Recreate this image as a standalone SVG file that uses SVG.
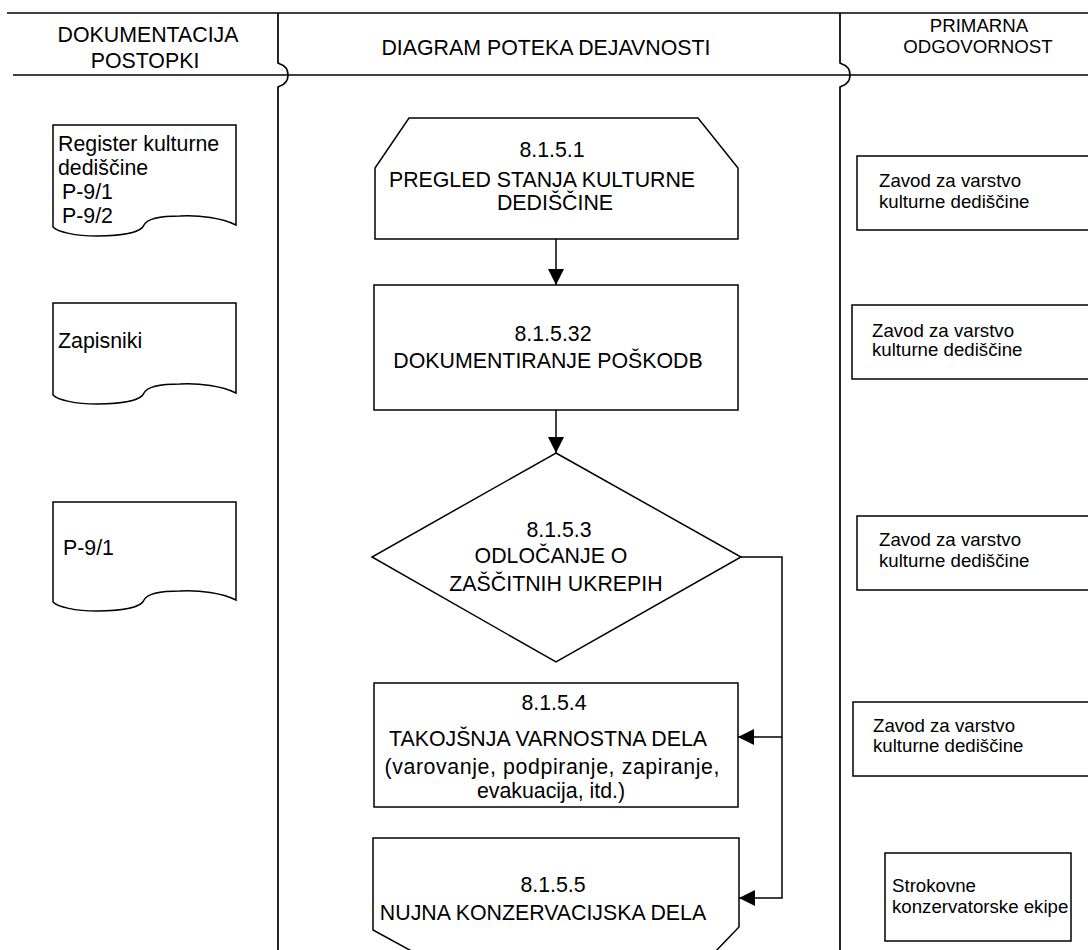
<svg xmlns="http://www.w3.org/2000/svg" width="1088" height="950" viewBox="0 0 1088 950">
<style>
.ln{stroke:#000;stroke-width:1.7;fill:none}
.sh{stroke:#000;stroke-width:1.5;fill:#fff}
.cn{stroke:#000;stroke-width:1.5;fill:none}
text{font-family:"Liberation Sans",Arial,sans-serif;font-size:21.33px;fill:#000}
.c{text-anchor:middle}
.s{font-size:18.67px}
</style>
<defs>
<marker id="arr" markerUnits="userSpaceOnUse" markerWidth="17" markerHeight="17" refX="16" refY="8" orient="auto">
<path d="M0,0 L16,8 L0,16 Z" fill="#000"/>
</marker>
</defs>
<rect x="0" y="0" width="1088" height="950" fill="#fff"/>

<g id="lanes">
<path class="ln" d="M7,13 H1088"/>
<path class="ln" d="M13,75 H1088"/>
<path class="ln" d="M278,13 V63 L280,64 C286,66 288,70 288,75 C288,80 286,84 280,86 L278,87 V950"/>
<path class="ln" d="M840,13 V63 L842,64 C848,66 850,70 850,75 C850,80 848,84 842,86 L840,87 V950"/>
<text class="c" x="148" y="42">DOKUMENTACIJA</text>
<text class="c" x="145" y="68">POSTOPKI</text>
<text class="c" x="546" y="55">DIAGRAM POTEKA DEJAVNOSTI</text>
<text class="c s" x="979" y="32">PRIMARNA</text>
<text class="c s" x="978" y="53">ODGOVORNOST</text>
</g>

<g id="doc1">
<path class="sh" d="M53,125 H236 V225 C222,218 200,215 180,216 C160,216 147,219 144,225 C141,233 120,236 97,236 C75,236 58,232 53,227 Z"/>
<text x="58" y="151">Register kulturne</text>
<text x="58" y="175">dediščine</text>
<text x="62" y="199">P-9/1</text>
<text x="62" y="223">P-9/2</text>
</g>
<g id="doc2">
<path class="sh" d="M53,303 H236 V393 C222,386 200,383 180,384 C160,384 147,387 144,393 C141,401 120,404 97,404 C75,404 58,400 53,395 Z"/>
<text x="58" y="348">Zapisniki</text>
</g>
<g id="doc3">
<path class="sh" d="M53,502 H236 V600 C222,593 200,590 180,591 C160,591 147,594 144,600 C141,608 120,611 97,611 C75,611 58,607 53,602 Z"/>
<text x="63" y="555">P-9/1</text>
</g>

<g id="connectors">
<path class="cn" d="M556,239 V285" marker-end="url(#arr)"/>
<path class="cn" d="M556,410 V453" marker-end="url(#arr)"/>
<path class="cn" d="M741,557 H782 V898 H739" marker-end="url(#arr)"/>
<path class="cn" d="M782,737 H738" marker-end="url(#arr)"/>
</g>

<g id="n8151">
<polygon class="sh" points="409,118 698,118 738,168 738,239 375,239 375,168"/>
<text class="c" x="552" y="157">8.1.5.1</text>
<text class="c" x="542" y="187">PREGLED STANJA KULTURNE</text>
<text class="c" x="555" y="210">DEDIŠČINE</text>
</g>
<g id="n81532">
<rect class="sh" x="374" y="285" width="364" height="125"/>
<text class="c" x="553" y="341">8.1.5.32</text>
<text class="c" x="548" y="368">DOKUMENTIRANJE POŠKODB</text>
</g>
<g id="n8153">
<polygon class="sh" points="556,453 741,557 556,662 372,557"/>
<text class="c" x="559" y="537">8.1.5.3</text>
<text class="c" x="551" y="563">ODLOČANJE O</text>
<text class="c" x="556" y="591">ZAŠČITNIH UKREPIH</text>
</g>
<g id="n8154">
<rect class="sh" x="374" y="683" width="364" height="124"/>
<text class="c" x="554" y="710">8.1.5.4</text>
<text class="c" x="548" y="746">TAKOJŠNJA VARNOSTNA DELA</text>
<text class="c" x="552" y="774" textLength="335" lengthAdjust="spacing">(varovanje, podpiranje, zapiranje,</text>
<text class="c" x="551" y="798">evakuacija, itd.)</text>
</g>
<g id="n8155">
<polygon class="sh" points="373,838 739,838 739,927 690,978 450,972 373,930"/>
<text class="c" x="553" y="892">8.1.5.5</text>
<text class="c" x="543" y="920">NUJNA KONZERVACIJSKA DELA</text>
</g>

<g id="r1">
<rect class="sh" x="857" y="156" width="260" height="74"/>
<text class="s" x="879" y="187">Zavod za varstvo</text>
<text class="s" x="879" y="208">kulturne dediščine</text>
</g>
<g id="r2">
<rect class="sh" x="852" y="305" width="260" height="74"/>
<text class="s" x="872" y="337">Zavod za varstvo</text>
<text class="s" x="872" y="356">kulturne dediščine</text>
</g>
<g id="r3">
<rect class="sh" x="857" y="516" width="260" height="74"/>
<text class="s" x="879" y="546">Zavod za varstvo</text>
<text class="s" x="879" y="567">kulturne dediščine</text>
</g>
<g id="r4">
<rect class="sh" x="853" y="702" width="260" height="74"/>
<text class="s" x="873" y="732">Zavod za varstvo</text>
<text class="s" x="873" y="752">kulturne dediščine</text>
</g>
<g id="r5">
<rect class="sh" x="885" y="853" width="186" height="88"/>
<text class="s" x="892" y="892">Strokovne</text>
<text class="s" x="892" y="913">konzervatorske ekipe</text>
</g>
</svg>
